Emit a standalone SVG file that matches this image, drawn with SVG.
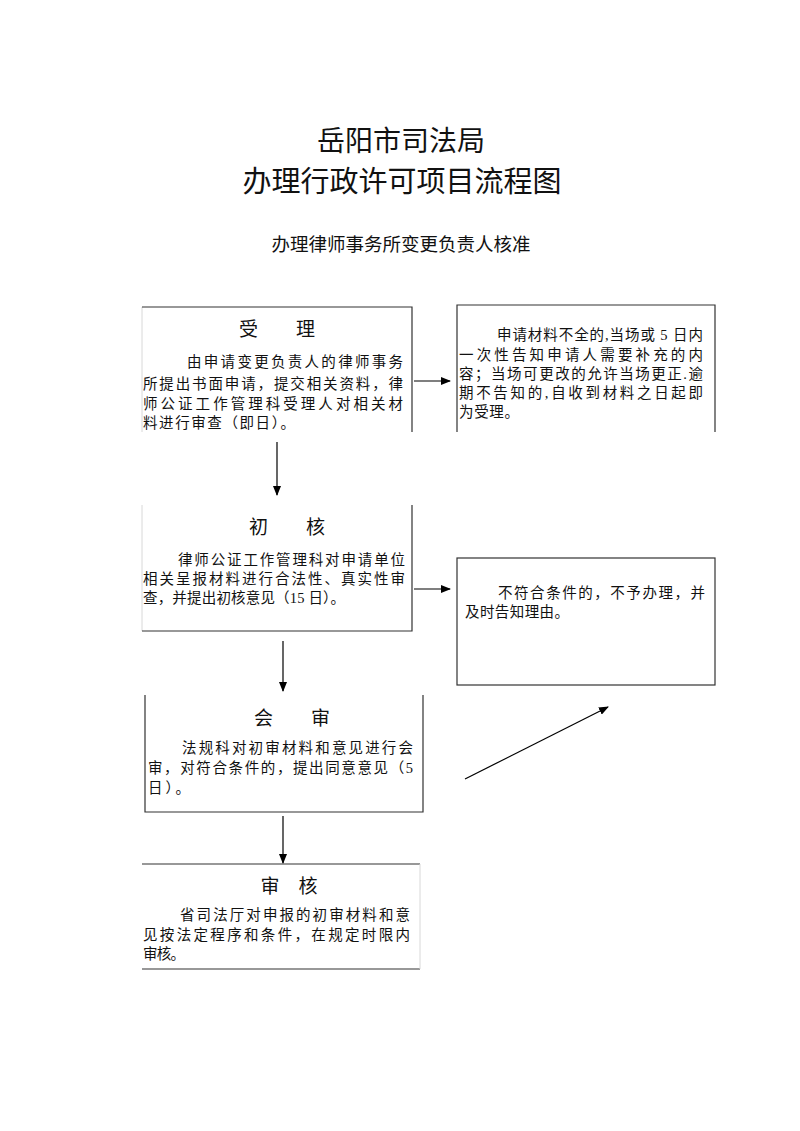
<svg xmlns="http://www.w3.org/2000/svg" width="800" height="1131" viewBox="0 0 800 1131">
<style>
.t{font-family:"Liberation Serif","Noto Sans CJK SC",serif;fill:#111;}
.title{font-family:"Noto Sans CJK SC",sans-serif;fill:#111;}
.b{font-size:14.5px;}
.h{font-size:19px;}
.edge{stroke:#333;stroke-width:1.2;fill:none;}
.faint{stroke:#d8d8d8;stroke-width:1;fill:none;}
.conn{stroke:#000;stroke-width:1.2;fill:none;marker-end:url(#ah);}
</style>
<defs>
<marker id="ah" markerWidth="10" markerHeight="8" refX="9" refY="4" orient="auto" markerUnits="userSpaceOnUse">
<path d="M0,0 L10,4 L0,8 Z" fill="#000"/>
</marker>
</defs>
<rect width="800" height="1131" fill="#fff"/>
<g id="titles">
<text class="title" x="401" y="151" font-size="28" text-anchor="middle">岳阳市司法局</text>
<text class="title" x="402" y="192" font-size="29" text-anchor="middle">办理行政许可项目流程图</text>
<text class="t" x="401" y="251" font-size="18.5" text-anchor="middle" fill="#222">办理律师事务所变更负责人核准</text>
</g>
<g id="n1">
<path class="faint" d="M142,307 V432"/>
<path class="edge" d="M142,307 H412 V432"/>
<text class="t h" x="277" y="336" text-anchor="middle">受　　理</text>
<text class="t b" x="187" y="367" textLength="216" lengthAdjust="spacing">由申请变更负责人的律师事务</text>
<text class="t b" x="143" y="389" textLength="260" lengthAdjust="spacing">所提出书面申请，提交相关资料，律</text>
<text class="t b" x="143" y="409" textLength="260" lengthAdjust="spacing">师公证工作管理科受理人对相关材</text>
<text class="t b" x="143" y="428" textLength="152" lengthAdjust="spacing">料进行审查（即日）。</text>
</g>
<g id="n2">
<path class="edge" d="M457,432 V305 H715 V432"/>
<text class="t b" x="497" y="340" textLength="206" lengthAdjust="spacing">申请材料不全的,当场或 5 日内</text>
<text class="t b" x="459" y="360" textLength="244" lengthAdjust="spacing">一次性告知申请人需要补充的内</text>
<text class="t b" x="459" y="379" textLength="244" lengthAdjust="spacing">容；当场可更改的允许当场更正.逾</text>
<text class="t b" x="459" y="398" textLength="244" lengthAdjust="spacing">期不告知的,自收到材料之日起即</text>
<text class="t b" x="459" y="417" textLength="60" lengthAdjust="spacing">为受理。</text>
</g>
<g id="n3">
<path class="faint" d="M142,505 V631"/>
<path class="edge" d="M142,631 H412 V505"/>
<text class="t h" x="287" y="534" text-anchor="middle">初　　核</text>
<text class="t b" x="178" y="565" textLength="227" lengthAdjust="spacing">律师公证工作管理科对申请单位</text>
<text class="t b" x="143" y="584" textLength="262" lengthAdjust="spacing">相关呈报材料进行合法性、真实性审</text>
<text class="t b" x="143" y="603" textLength="202" lengthAdjust="spacing">查，并提出初核意见（15 日）。</text>
</g>
<g id="n4">
<rect class="edge" x="457" y="558" width="258" height="127"/>
<text class="t b" x="498" y="598" textLength="207" lengthAdjust="spacing">不符合条件的，不予办理，并</text>
<text class="t b" x="465" y="617" textLength="104" lengthAdjust="spacing">及时告知理由。</text>
</g>
<g id="n5">
<path class="edge" d="M145,695 V812 H423 V695"/>
<text class="t h" x="292" y="725" text-anchor="middle">会　　审</text>
<text class="t b" x="182" y="753" textLength="231" lengthAdjust="spacing">法规科对初审材料和意见进行会</text>
<text class="t b" x="148" y="773" textLength="265" lengthAdjust="spacing">审，对符合条件的，提出同意意见（5</text>
<text class="t b" x="148" y="793" textLength="42" lengthAdjust="spacing">日）。</text>
</g>
<g id="n6">
<path class="edge" d="M142,864 H420"/>
<path class="edge" d="M142,969 H420"/>
<path class="faint" d="M420,864 V969"/>
<text class="t h" x="289" y="893" text-anchor="middle">审　核</text>
<text class="t b" x="180" y="920" textLength="230" lengthAdjust="spacing">省司法厅对申报的初审材料和意</text>
<text class="t b" x="143" y="940" textLength="267" lengthAdjust="spacing">见按法定程序和条件，在规定时限内</text>
<text class="t b" x="143" y="959" textLength="42" lengthAdjust="spacing">审核。</text>
</g>
<g id="connectors">
<path class="conn" d="M414,381 H450"/>
<path class="conn" d="M277,442 V495"/>
<path class="conn" d="M414,589 H450"/>
<path class="conn" d="M283,641 V691"/>
<path class="conn" d="M465,779 L608,707"/>
<path class="conn" d="M283,816 V863"/>
</g>
</svg>
